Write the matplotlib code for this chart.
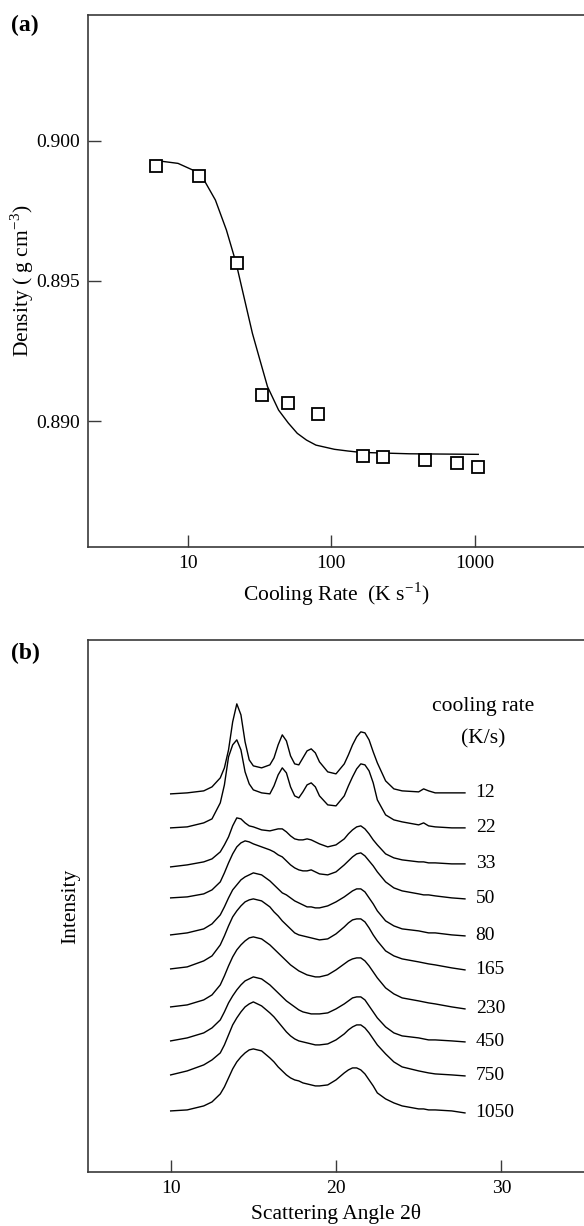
import numpy as np
import matplotlib
matplotlib.use('Agg')
import matplotlib.pyplot as plt
from matplotlib.ticker import FixedLocator, NullLocator

plt.rcParams['font.family'] = ['Liberation Serif', 'DejaVu Serif']
plt.rcParams['mathtext.fontset'] = 'stix'
plt.rcParams['font.size'] = 14

# (a) density vs cooling rate
rate = [6, 12, 22, 33, 50, 80, 165, 230, 450, 750, 1050]
density = [0.89912, 0.89875, 0.89565, 0.89094, 0.89063, 0.89026,
           0.88875, 0.88872, 0.88861, 0.88851, 0.88836]

# fitted line
fit_rate = [6, 8.5, 10.8, 12.9, 15.5, 18.5, 21.6, 24.2, 28.1, 31.7, 35.8,
            42.8, 50, 57.8, 67, 78, 105, 130, 160, 350, 1060]
fit_density = [0.89930, 0.89920, 0.89896, 0.89861, 0.89789, 0.89682, 0.89565,
               0.89456, 0.89313, 0.89218, 0.89123, 0.89039, 0.88993, 0.88956,
               0.88932, 0.88914, 0.88899, 0.88893, 0.88888, 0.88883, 0.88881]

# (b) WAXS curves, stacked
angle = [10, 11, 12, 12.5, 13, 13.25, 13.5, 13.75, 14, 14.25, 14.5, 14.75, 15,
         15.5, 16, 16.25, 16.5, 16.75, 17, 17.25, 17.5, 17.75, 18, 18.25, 18.5,
         18.75, 19, 19.5, 20, 20.5, 20.75, 21, 21.25, 21.5, 21.75, 22, 22.25,
         22.5, 23, 23.5, 24, 25, 25.3, 25.6, 26, 27, 27.8]
rate_labels = ['12', '22', '33', '50', '80', '165', '230', '450', '750', '1050']
offsets = [378, 344, 305, 274, 237, 203, 165, 131, 97, 61]

i12 = [0, 1, 3, 7, 16, 26, 44, 72, 90, 79, 52, 34, 28, 26, 29, 36, 49, 59, 53,
       38, 30, 29, 36, 43, 45, 41, 32, 22, 20, 30, 39, 49, 57, 62, 61, 54, 42,
       31, 13, 5, 3, 2, 5, 3, 1, 1, 1]
i22 = [0, 1, 5, 9, 25, 43, 71, 83, 88, 78, 56, 44, 38, 35, 34, 42, 53, 60, 55,
       41, 32, 30, 36, 43, 45, 41, 32, 23, 22, 32, 42, 51, 59, 64, 63, 57, 45,
       28, 13, 8, 6, 3, 5, 2, 1, 0, 0]
i33 = [0, 2, 5, 8, 15, 22, 30, 41, 49, 48, 44, 41, 40, 37, 36, 37, 38, 38, 35,
       31, 28, 27, 27, 28, 27, 25, 23, 20, 22, 28, 33, 37, 40, 41, 38, 33, 27,
       22, 13, 9, 7, 5, 5, 4, 4, 3, 3]
i50 = [0, 1, 4, 8, 16, 25, 35, 44, 51, 55, 57, 56, 54, 51, 48, 46, 43, 41, 37,
       33, 30, 28, 27, 27, 28, 26, 24, 23, 26, 33, 37, 41, 44, 45, 42, 37, 32,
       26, 16, 10, 7, 4, 3, 3, 2, 0, -1]
i80 = [0, 2, 6, 11, 20, 28, 37, 45, 50, 55, 58, 60, 62, 60, 54, 50, 46, 42, 40,
       37, 34, 32, 30, 28, 28, 27, 27, 29, 33, 38, 41, 44, 46, 46, 43, 37, 31,
       24, 14, 9, 6, 4, 3, 2, 2, 0, -1]
i165 = [0, 2, 8, 13, 24, 33, 43, 52, 58, 63, 67, 69, 70, 68, 62, 57, 53, 48, 44,
        40, 36, 34, 33, 32, 31, 30, 29, 30, 35, 42, 46, 49, 50, 50, 47, 41, 34,
        28, 18, 13, 10, 7, 6, 5, 4, 1, -1]
i230 = [0, 2, 7, 12, 22, 31, 41, 50, 57, 62, 66, 69, 70, 68, 62, 58, 54, 50, 46,
        42, 39, 36, 34, 32, 31, 30, 30, 32, 37, 43, 46, 48, 49, 49, 46, 41, 35,
        29, 19, 13, 9, 6, 5, 4, 3, 0, -2]
i450 = [0, 3, 8, 13, 21, 29, 38, 45, 51, 56, 60, 62, 64, 62, 56, 52, 48, 44, 40,
        37, 34, 31, 29, 28, 27, 27, 27, 28, 32, 37, 40, 43, 44, 44, 41, 35, 29,
        23, 14, 8, 5, 3, 2, 1, 1, 0, -1]
i750 = [0, 4, 10, 15, 22, 30, 40, 50, 57, 63, 68, 71, 73, 69, 62, 58, 53, 48, 43,
        39, 36, 34, 33, 32, 31, 30, 30, 31, 35, 41, 45, 48, 50, 50, 47, 42, 36,
        30, 21, 13, 8, 4, 3, 2, 1, 0, -1]
i1050 = [0, 1, 5, 9, 17, 24, 33, 42, 49, 54, 58, 61, 62, 60, 53, 49, 44, 40, 36,
         33, 31, 30, 28, 27, 26, 25, 25, 26, 31, 38, 41, 43, 43, 41, 37, 31, 25,
         18, 12, 8, 5, 2, 2, 1, 1, 0, -2]
profiles = [i12, i22, i33, i50, i80, i165, i230, i450, i750, i1050]

fig = plt.figure(figsize=(5.84, 12.26), dpi=100)
ax1 = fig.add_axes([0.1507, 0.5538, 0.8493, 0.434])
ax2 = fig.add_axes([0.1507, 0.0441, 0.8493, 0.434])

spine_col = '#3a3a3a'
for ax in (ax1, ax2):
    ax.spines['right'].set_visible(False)
    for s in ('left', 'bottom', 'top'):
        ax.spines[s].set_color(spine_col)
        ax.spines[s].set_linewidth(1.2)
    ax.tick_params(direction='in', length=9, width=1, color=spine_col,
                   top=False, right=False, pad=6, labelsize=14)

# --- (a)
ax1.plot(fit_rate, fit_density, color='black', lw=1.0)
ax1.plot(rate, density, ls='none', marker='s', ms=8.5, mfc='white',
         mec='black', mew=1.3)
ax1.set_xscale('log')
ax1.set_xlim(2, 5800)
ax1.set_ylim(0.8855, 0.9045)
ax1.xaxis.set_major_locator(FixedLocator([10, 100, 1000]))
ax1.xaxis.set_minor_locator(NullLocator())
ax1.set_xticklabels(['10', '100', '1000'])
ax1.set_yticks([0.890, 0.895, 0.900])
ax1.set_yticklabels(['0.890', '0.895', '0.900'])
ax1.set_xlabel('Cooling Rate  (K s$^{\\mathregular{-1}}$)', fontsize=15.5)
ax1.set_ylabel('Density ( g cm$^{\\mathregular{-3}}$)', fontsize=15.5)
ax1.xaxis.set_label_coords(0.5, -0.063)
ax1.yaxis.set_label_coords(-0.104, 0.5)

# --- (b)
for prof, off, lab in zip(profiles, offsets, rate_labels):
    y = off + np.array(prof)
    ax2.plot(angle, y, color='black', lw=1.0)
    ax2.text(28.45, y[-1], lab, ha='left', va='center', fontsize=14)
ax2.text(28.9, 465, 'cooling rate', ha='center', va='center', fontsize=15.5)
ax2.text(28.9, 433, '(K/s)', ha='center', va='center', fontsize=15.5)
ax2.set_xlim(5, 35)
ax2.set_ylim(0, 532)
ax2.set_xticks([10, 20, 30])
ax2.set_xticklabels(['10', '20', '30'])
ax2.set_yticks([])
ax2.set_xlabel('Scattering Angle 2\u03b8', fontsize=15.5)
ax2.set_ylabel('Intensity', fontsize=15.5)
ax2.xaxis.set_label_coords(0.5, -0.061)
ax2.yaxis.set_label_coords(-0.016, 0.5)

fig.text(0.019, 0.979, '(a)', fontsize=17, fontweight='bold', va='center')
fig.text(0.019, 0.4674, '(b)', fontsize=17, fontweight='bold', va='center')

fig.savefig('out.png', dpi=100)
